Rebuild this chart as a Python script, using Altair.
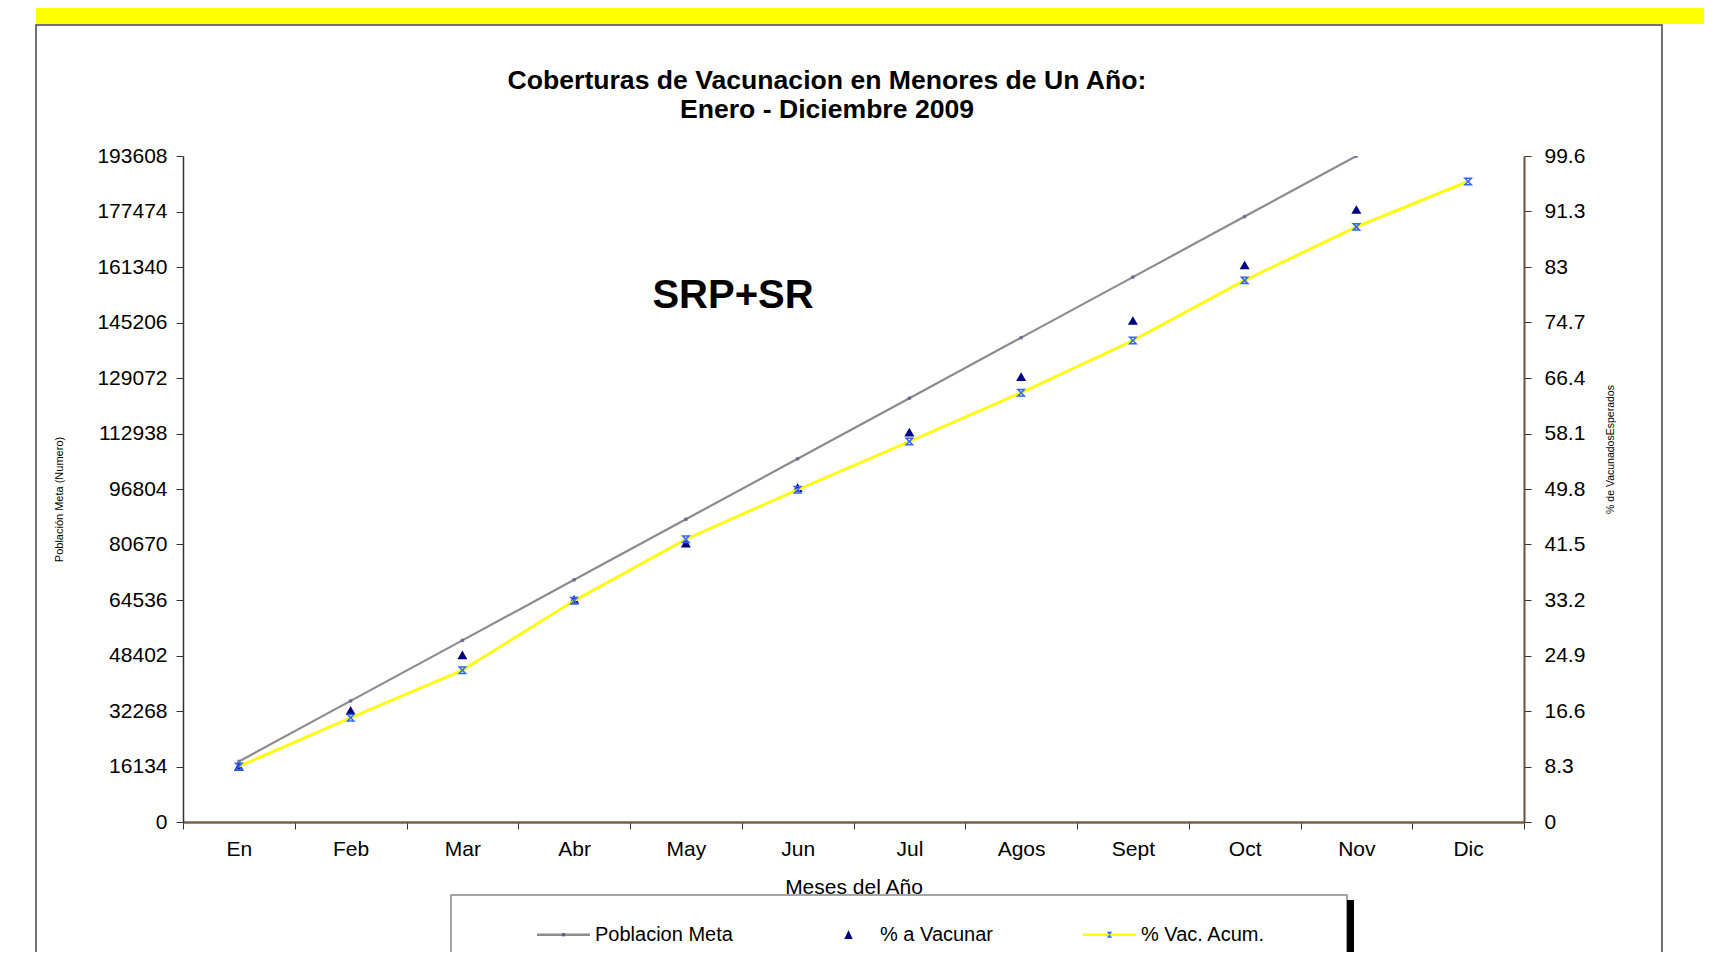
import altair as alt
import pandas as pd

# ---------------- data ----------------
meses = ["En", "Feb", "Mar", "Abr", "May", "Jun", "Jul", "Agos", "Sept", "Oct", "Nov", "Dic"]
poblacion_meta = [17601, 35202, 52802, 70403, 88004, 105604, 123205, 140806, 158406, 176007, 193608, None]
pct_vacunar = [8.3, 16.7, 25.0, 33.3, 41.7, 50.0, 58.3, 66.6, 75.0, 83.3, 91.6, None]
pct_acum = [8.3, 15.6, 22.7, 33.1, 42.3, 49.7, 56.9, 64.2, 72.0, 81.0, 89.0, 95.8]

left_ticks = [0, 16134, 32268, 48402, 64536, 80670, 96804, 112938, 129072, 145206, 161340, 177474, 193608]
right_ticks = [0, 8.3, 16.6, 24.9, 33.2, 41.5, 49.8, 58.1, 66.4, 74.7, 83, 91.3, 99.6]
series_names = ["Poblacion Meta", "% a Vacunar", "% Vac. Acum."]
title_lines = ["Coberturas de Vacunacion en Menores de Un Año:", "Enero - Diciembre 2009"]

df = pd.DataFrame({
    "idx": list(range(1, 13)),
    "mes": meses,
    "meta": poblacion_meta,
    "vacunar": pct_vacunar,
    "acum": pct_acum,
})

W, H = 1341, 666
FONT = "Liberation Sans"

gray = "#8C8C8C"
navy = "#000080"
yellow = "#FFFF00"
xblue = "#3366FF"
meta_marker = "#5a5a90"

x_vals = [i + 0.5 for i in range(13)]
month_js = "[" + ",".join("'" + m + "'" for m in meses) + "]"
x_enc = alt.X(
    "idx:Q",
    scale=alt.Scale(domain=[0.5, 12.5], nice=False, zero=False),
    axis=alt.Axis(
        values=x_vals,
        labelExpr=f"datum.value < 12 ? {month_js}[floor(datum.value)] : ''",
        labelOffset=W / 24,
        labelFlush=False,
        labelOverlap=False,
        labelBound=False,
        labelFontSize=21,
        labelColor="black",
        labelPadding=9,
        tickSize=7,
        tickColor="#333333",
        domainColor="#7a5f4a",
        domainWidth=2.5,
        grid=False,
        title="Meses del Año",
        titleFontSize=21,
        titleFontWeight="normal",
        titleColor="black",
        titleBaseline="middle",
        titleY=65,
    ),
)

# ---------------- left axis layers ----------------
y_left = alt.Y(
    "meta:Q",
    scale=alt.Scale(domain=[0, 193608], nice=False, zero=True),
    axis=alt.Axis(
        orient="left",
        values=left_ticks,
        format="d",
        labelFontSize=21,
        labelColor="black",
        labelPadding=9,
        tickSize=7,
        tickColor="#333333",
        domainColor="#333333",
        domainWidth=1.5,
        grid=False,
        title="Población Meta (Numero)",
        titleFontSize=11,
        titleFontWeight="normal",
        titleColor="black",
        titleAngle=270,
        titleX=-124,
        titleY=343,
        titleAlign="center",
        titleBaseline="middle",
    ),
)

meta_line = alt.Chart(df).mark_line(color=gray, strokeWidth=2.2, clip=True).encode(x=x_enc, y=y_left)
meta_pts = alt.Chart(df).mark_point(shape="square", filled=True, color=meta_marker, size=12, clip=True).encode(
    x=x_enc, y=y_left
)
left_layer = alt.layer(meta_line, meta_pts)

# ---------------- right axis layers ----------------
right_axis = alt.Axis(
    orient="right",
    values=right_ticks,
    format=".1~f",
    labelFontSize=21,
    labelColor="black",
    labelPadding=13,
    tickSize=7,
    tickColor="#333333",
    domainColor="#6b5040",
    domainWidth=2,
    grid=False,
    title="% de VacunadosEsperados",
    titleFontSize=10.5,
    titleFontWeight="normal",
    titleColor="black",
    titleAngle=270,
    titleX=86,
    titleY=293,
    titleAlign="center",
    titleBaseline="middle",
)
y_scale_r = alt.Scale(domain=[0, 99.6], nice=False, zero=True)

tri = alt.Chart(df).mark_point(shape="triangle-up", filled=True, color=navy, size=100, opacity=1).encode(
    x=x_enc, y=alt.Y("vacunar:Q", scale=y_scale_r, axis=right_axis)
)
acum_line = alt.Chart(df).mark_line(color=yellow, strokeWidth=2.8).encode(
    x=x_enc, y=alt.Y("acum:Q", scale=y_scale_r, axis=right_axis)
)
acum_pts = alt.Chart(df).mark_point(
    shape="M-1,-1L1,-1L-1,1L1,1Z", filled=False, stroke=xblue, strokeWidth=1.5, size=42, opacity=1
).encode(x=x_enc, y=alt.Y("acum:Q", scale=y_scale_r, axis=right_axis))
right_layer = alt.layer(tri, acum_line, acum_pts)

# ---------------- decorations ----------------
one = alt.Data(values=[{}])
yellow_band = alt.Chart(one).mark_rect(color=yellow).encode(
    x=alt.value(-147), x2=alt.value(1529), y=alt.value(-160), y2=alt.value(-132)
)
frame = alt.Chart(one).mark_rect(fillOpacity=0, stroke="#444444", strokeWidth=1.5).encode(
    x=alt.value(-147), x2=alt.value(1479), y=alt.value(-131), y2=alt.value(830)
)
legend_box = alt.Chart(one).mark_rect(fill="white", stroke="#888888", strokeWidth=1.5).encode(
    x=alt.value(268), x2=alt.value(1164), y=alt.value(739), y2=alt.value(830)
)
legend_shadow = alt.Chart(one).mark_rect(color="black").encode(
    x=alt.value(1164), x2=alt.value(1171), y=alt.value(744), y2=alt.value(830)
)
srp = alt.Chart(one).mark_text(
    text="SRP+SR", fontSize=40, fontWeight="bold", font=FONT, color="black", align="center", baseline="middle"
).encode(x=alt.value(550), y=alt.value(140))

title1 = alt.Chart(one).mark_text(
    text=title_lines[0], fontSize=26.6, fontWeight="bold", font=FONT, color="black", align="center", baseline="middle"
).encode(x=alt.value(644), y=alt.value(-75))
title2 = alt.Chart(one).mark_text(
    text=title_lines[1], fontSize=26.6, fontWeight="bold", font=FONT, color="black", align="center", baseline="middle"
).encode(x=alt.value(644), y=alt.value(-46))

# ---------------- legend (from hidden layers) ----------------
line_sym = "M-1,-0.045H1V0.045H-1Z"
tri_sym = "M0,-0.17L0.16,0.16L-0.16,0.16Z"
sq_sym = "M-0.06,-0.06H0.06V0.06H-0.06Z"
none_sym = "M0,0Z"
x_sym = "M-0.11,-0.11L0.11,-0.11L-0.11,0.11L0.11,0.11Z"
legend_df = pd.DataFrame({"serie": series_names})


def leg(label_opacity):
    return alt.Legend(
        orient="none",
        legendX=354,
        legendY=752,
        direction="horizontal",
        columns=3,
        columnPadding=89,
        symbolSize=2809,
        symbolStrokeWidth=0,
        labelOffset=5,
        labelFontSize=20,
        labelFont=FONT,
        labelColor="black",
        labelOpacity=label_opacity,
        labelLimit=400,
        padding=0,
        title=None,
    )


legend_layer = alt.Chart(legend_df).mark_point(filled=True, opacity=1).encode(
    color=alt.Color("serie:N", scale=alt.Scale(domain=series_names, range=[gray, navy, yellow]), legend=leg(1)),
    shape=alt.Shape("serie:N", scale=alt.Scale(domain=series_names, range=[line_sym, tri_sym, line_sym]), legend=leg(1)),
).transform_filter("false")

legend_marker_layer = alt.Chart(legend_df).mark_point(filled=True, opacity=1).encode(
    color=alt.Color("serie:N", scale=alt.Scale(domain=series_names, range=[meta_marker, navy, xblue]), legend=leg(0)),
    shape=alt.Shape("serie:N", scale=alt.Scale(domain=series_names, range=[sq_sym, none_sym, x_sym]), legend=leg(0)),
).transform_filter("false")

chart = (
    alt.layer(yellow_band, frame, legend_box, legend_shadow, title1, title2,
              left_layer, right_layer, srp, legend_layer, legend_marker_layer)
    .resolve_scale(y="independent", color="independent", shape="independent")
    .properties(
        width=W,
        height=H,
        autosize=alt.AutoSizeParams(type="none"),
        padding={"left": 175, "top": 148, "right": 180, "bottom": 130},
        background="white",
    )
    .configure(font=FONT)
    .configure_view(fill="#FFCC99", stroke=None)
)

chart.save("out.html", embed_options={"renderer": "svg", "actions": False})
